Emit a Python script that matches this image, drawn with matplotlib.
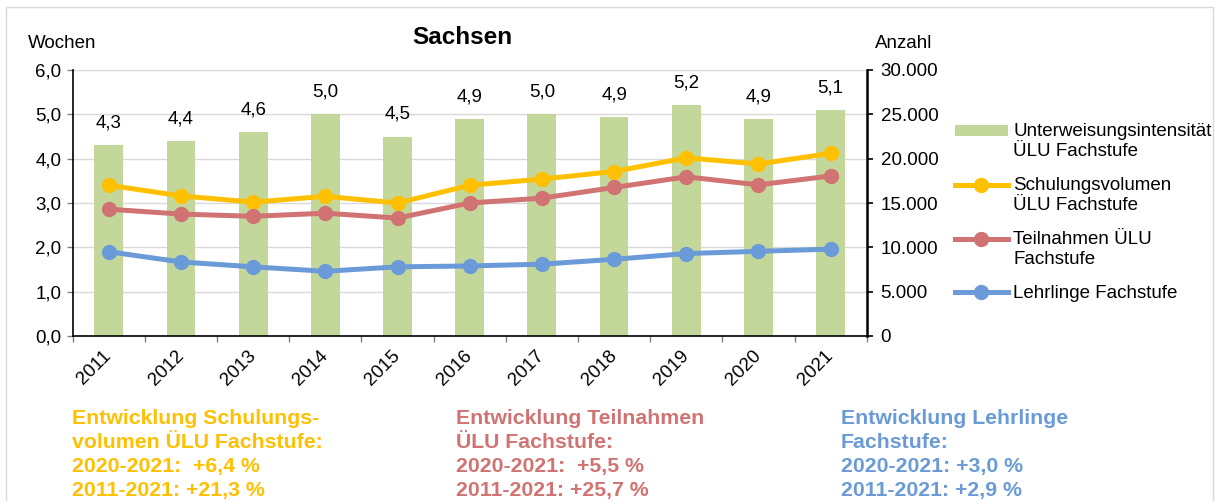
import numpy as np
import matplotlib.pyplot as plt
from matplotlib.patches import Rectangle
from matplotlib.legend_handler import HandlerLine2D, HandlerPatch

plt.rcParams['font.family'] = ['Liberation Sans', 'DejaVu Sans']

# data
years = ['2011', '2012', '2013', '2014', '2015', '2016', '2017', '2018', '2019', '2020', '2021']
intensity = [4.3, 4.4, 4.6, 5.0, 4.5, 4.9, 5.0, 4.94, 5.2, 4.9, 5.1]
volume = [17000, 15800, 15100, 15750, 15000, 17000, 17700, 18550, 20100, 19400, 20600]
participants = [14300, 13750, 13500, 13850, 13300, 15000, 15550, 16750, 17950, 17050, 18050]
apprentices = [9500, 8350, 7800, 7300, 7800, 7900, 8100, 8650, 9300, 9550, 9800]

series_labels = ['Unterweisungsintensität\nÜLU Fachstufe', 'Schulungsvolumen\nÜLU Fachstufe',
                 'Teilnahmen ÜLU\nFachstufe', 'Lehrlinge Fachstufe']
notes = [
    'Entwicklung Schulungs-\nvolumen ÜLU Fachstufe:\n2020-2021:  +6,4 %\n2011-2021: +21,3 %',
    'Entwicklung Teilnahmen\nÜLU Fachstufe:\n2020-2021:  +5,5 %\n2011-2021: +25,7 %',
    'Entwicklung Lehrlinge\nFachstufe:\n2020-2021: +3,0 %\n2011-2021: +2,9 %',
]

c_bar = '#C4D79B'
c_vol = '#FFC000'
c_part = '#D07372'
c_appr = '#6A9BD8'
fs = 13.5


class ShiftPatch(HandlerPatch):
    """Patch handle moved up onto the first line of a two-line label."""
    def __init__(self, shift=0.0, **kw):
        super().__init__(**kw)
        self.shift = shift

    def create_artists(self, legend, orig_handle, xdescent, ydescent, width, height, fontsize, trans):
        return super().create_artists(legend, orig_handle, xdescent, ydescent - self.shift * fontsize,
                                      width, height, fontsize, trans)


class ShiftLine(HandlerLine2D):
    def __init__(self, shift=0.0, **kw):
        super().__init__(**kw)
        self.shift = shift

    def create_artists(self, legend, orig_handle, xdescent, ydescent, width, height, fontsize, trans):
        return super().create_artists(legend, orig_handle, xdescent, ydescent - 2 * self.shift * fontsize,
                                      width, height, fontsize, trans)


W, H = 1215, 501
fig = plt.figure(figsize=(W / 100, H / 100), dpi=100, facecolor='white')
ax = fig.add_axes((72.7 / W, 1 - 336 / H, 794 / W, 266 / H))
ax2 = ax.twinx()

x = np.arange(len(years))
bars = ax.bar(x, intensity, width=0.4, color=c_bar, zorder=2)
for xi, v in zip(x, intensity):
    ax.annotate(f'{v:.1f}'.replace('.', ','), (xi, v), xytext=(0, 16), textcoords='offset points',
                ha='center', va='center', fontsize=fs)

ax.set_xlim(-0.5, len(years) - 0.5)
ax.set_ylim(0, 6)
ax.set_yticks(np.arange(0, 6.1, 1))
ax.set_yticklabels([f'{v:.1f}'.replace('.', ',') for v in np.arange(0, 6.1, 1)], fontsize=fs)
ax.set_xticks(x)
ax.set_xticklabels(years, fontsize=fs, rotation=45, ha='right', va='center', rotation_mode='anchor')
ax.set_xticks(np.arange(-0.5, len(years)), minor=True)
ax.tick_params(axis='x', which='major', length=0, pad=12.5)
ax.tick_params(axis='x', which='minor', length=4, width=1, color='#808080')
ax.tick_params(axis='y', length=4, width=1, color='#808080', pad=4)
ax.grid(axis='y', color='#D9D9D9', lw=1)
ax.set_axisbelow(True)
for s in ['top', 'right']:
    ax.spines[s].set_visible(False)
ax.spines['left'].set_linewidth(1.2)
ax.spines['bottom'].set_linewidth(1.2)

line_kw = dict(lw=3.6, marker='o', markersize=10)
l1, = ax2.plot(x, volume, color=c_vol, **line_kw)
l2, = ax2.plot(x, participants, color=c_part, **line_kw)
l3, = ax2.plot(x, apprentices, color=c_appr, **line_kw)
ax2.set_ylim(0, 30000)
ax2.set_yticks(np.arange(0, 30001, 5000))
ax2.set_yticklabels([f'{int(v):,}'.replace(',', '.') for v in np.arange(0, 30001, 5000)], fontsize=fs)
ax2.tick_params(axis='y', length=4, width=1.2, pad=6)
for s in ['top', 'left', 'bottom']:
    ax2.spines[s].set_visible(False)
ax2.spines['right'].set_linewidth(1.8)

fig.text(462 / W, 1 - 38 / H, 'Sachsen', fontsize=17.5, fontweight='bold', ha='center', va='center')
fig.text(28 / W, 1 - 43 / H, 'Wochen', fontsize=fs, ha='left', va='center')
fig.text(875 / W, 1 - 43 / H, 'Anzahl', fontsize=fs, ha='left', va='center')

# legend handles sit on the first text line
hmap = {
    bars.patches[0]: ShiftPatch(shift=0.58),
    l1: ShiftLine(shift=0.58),
    l2: ShiftLine(shift=0.58),
    l3: HandlerLine2D(),
}
fig.legend([bars.patches[0], l1, l2, l3], series_labels, handler_map=hmap,
           loc='upper left', bbox_to_anchor=(955 / W, 1 - 123 / H), frameon=False,
           fontsize=fs, handlelength=2.8, handleheight=0.5, handletextpad=0.3,
           labelspacing=0.93, borderpad=0, borderaxespad=0, numpoints=1)

for xpos, txt, c in zip([72, 456, 841], notes, [c_vol, c_part, c_appr]):
    fig.text(xpos / W, 1 - 409 / H, txt, fontsize=15.3, fontweight='bold', color=c,
             ha='left', va='top', linespacing=1.33)

fig.add_artist(Rectangle((6 / W, -0.1), 1207 / W, 1.1 - 7 / H, transform=fig.transFigure,
                         fill=False, edgecolor='#D9D9D9', lw=1))

fig.savefig('out.png', dpi=100, facecolor='white')
